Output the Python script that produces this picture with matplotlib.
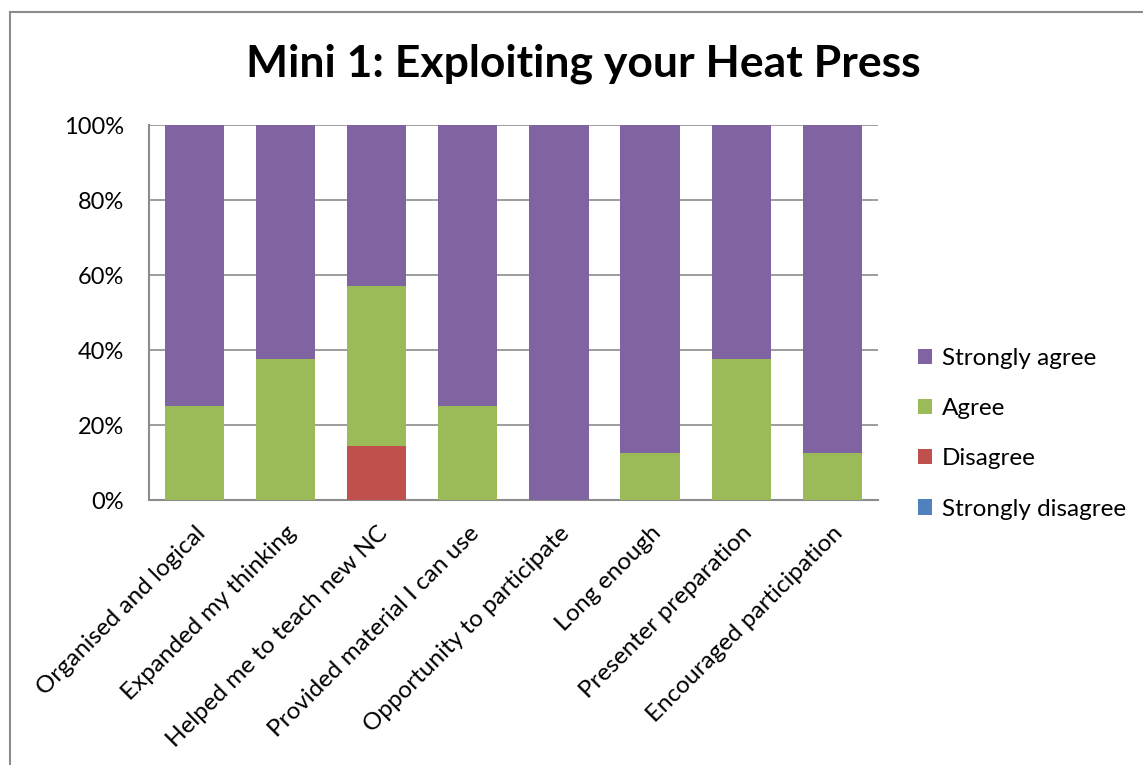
import matplotlib.pyplot as plt
from matplotlib.patches import Rectangle
from matplotlib.ticker import PercentFormatter

plt.rcParams['font.family'] = ['Lato', 'DejaVu Sans']

categories = ["Organised and logical", "Expanded my thinking", "Helped me to teach new NC",
              "Provided material I can use", "Opportunity to participate", "Long enough",
              "Presenter preparation", "Encouraged participation"]
strongly_disagree = [0, 0, 0, 0, 0, 0, 0, 0]
disagree = [0, 0, 14.29, 0, 0, 0, 0, 0]
agree = [25, 37.5, 42.86, 25, 0, 12.5, 37.5, 12.5]
strongly_agree = [75, 62.5, 42.86, 75, 100, 87.5, 62.5, 87.5]

series = [("Strongly disagree", strongly_disagree, "#4F81BD"),
          ("Disagree", disagree, "#C0504D"),
          ("Agree", agree, "#9BBB59"),
          ("Strongly agree", strongly_agree, "#8064A2")]

fig = plt.figure(figsize=(11.43, 7.65), dpi=100)
ax = fig.add_axes([0.1304, 0.3464, 0.6376, 0.4902])

# outer chart border (Excel chart area)
fig.patches.append(Rectangle((10 / 1143, -0.1), 1.2, 1 - 12 / 765 + 0.1, transform=fig.transFigure,
                             fill=False, edgecolor="#8c8c8c", linewidth=1.5))

x = range(len(categories))
bottom = [0] * len(categories)
handles = {}
for name, vals, col in series:
    b = ax.bar(x, vals, width=0.65, bottom=bottom, color=col, zorder=3, label=name)
    handles[name] = b
    bottom = [p + v for p, v in zip(bottom, vals)]

ax.set_xlim(-0.5, len(categories) - 0.5)
ax.set_ylim(0, 100)
ax.set_yticks([0, 20, 40, 60, 80, 100])
ax.yaxis.set_major_formatter(PercentFormatter(decimals=0))
ax.grid(axis="y", color="#8c8c8c", linewidth=1.2, zorder=0)
for s in ["top", "right"]:
    ax.spines[s].set_visible(False)
for s in ["left", "bottom"]:
    ax.spines[s].set_color("#8c8c8c")
    ax.spines[s].set_linewidth(1.5)
ax.tick_params(axis="y", labelsize=17, length=0, pad=18)
ax.tick_params(axis="x", length=0, pad=16)
ax.set_xticks(list(x))
ax.set_xticklabels(categories, rotation=45, ha="right", va="top",
                   rotation_mode="anchor", fontsize=17.5)

fig.text(0.51, 0.917, "Mini 1: Exploiting your Heat Press", ha="center", va="center",
         fontsize=32, fontweight="bold")

order = ["Strongly agree", "Agree", "Disagree", "Strongly disagree"]
fig.legend([handles[n] for n in order], order, loc="center left",
           bbox_to_anchor=(0.803, 0.433), frameon=False, fontsize=17.5,
           handlelength=0.6, handleheight=0.6, handletextpad=0.4, labelspacing=1.2,
           borderpad=0, borderaxespad=0)

fig.savefig("out.png", dpi=100)
